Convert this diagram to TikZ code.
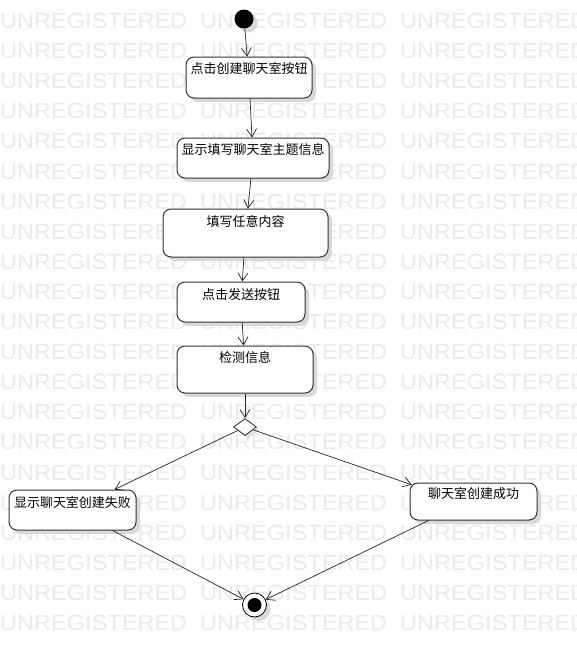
\documentclass[tikz,border=0pt]{standalone}
\usepackage{fontspec}
\newfontfamily\cjkfont{Noto Sans CJK SC}
\newfontfamily\wmfont{Liberation Sans}
\usetikzlibrary{shapes.geometric,shadows,arrows.meta}
\begin{document}
\begin{tikzpicture}[x=1pt,y=-1pt,
  act/.style={rectangle, draw=black!80, line width=1pt, rounded corners=8pt, fill=white, inner sep=0pt,
    drop shadow={shadow xshift=4pt, shadow yshift=-4pt, fill=black!15, opacity=1}},
  lbl/.style={font=\cjkfont\fontsize{13}{13}\selectfont, inner sep=0pt},
  flow/.style={draw=black!85, line width=0.7pt, -{Straight Barb[length=8pt,width=10pt]}},
  wm/.style={font=\wmfont\fontsize{22}{22}\selectfont, text=black!8, anchor=north west, inner sep=0pt, xscale=1.07},
]
\useasboundingbox (0,0) rectangle (576,659);
\fill[white] (0,0) rectangle (576,659);

% background stamp rows
\foreach \r in {0,...,20}{
  \foreach \c in {0,200,400}{
    \node[wm] (wm-\r-\c) at (\c, 13+30.1*\r) {UNREGISTERED};
  }
}

% start and end
\node (ini) [circle, fill=black, minimum size=19pt, inner sep=0pt,
  drop shadow={shadow xshift=4pt, shadow yshift=-4pt, fill=black!15, opacity=1}] at (244,19) {};
\node (fin) [circle, draw=black, line width=0.8pt, fill=white, minimum size=24pt, inner sep=0pt,
  drop shadow={shadow xshift=4pt, shadow yshift=-4pt, fill=black!15, opacity=1}] at (254.5,605) {};
\fill[black] (fin.center) circle[radius=7pt];

% actions
\node (b1) [act, minimum width=126pt, minimum height=41pt] at (249,77.5) {};
\node (b2) [act, minimum width=152pt, minimum height=40pt] at (253,158) {};
\node (b3) [act, minimum width=165pt, minimum height=48pt] at (245.5,233) {};
\node (b4) [act, minimum width=128pt, minimum height=40pt] at (241,302) {};
\node (b5) [act, minimum width=136pt, minimum height=47pt] at (245,369.5) {};
\node (b6) [act, minimum width=127pt, minimum height=40pt] at (72.5,510) {};
\node (b7) [act, minimum width=127pt, minimum height=37pt] at (473.5,501.5) {};

\node (dia) [diamond, draw=black!85, line width=0.8pt, fill=white, minimum width=23pt, minimum height=17pt, inner sep=0pt,
  drop shadow={shadow xshift=3pt, shadow yshift=-3pt, fill=black!12, opacity=1}] at (245,427) {};

% labels
\node[lbl] (t1) at ([yshift=-12.5pt]b1.north) {点击创建聊天室按钮};
\node[lbl] (t2) at ([yshift=-12.5pt]b2.north) {显示填写聊天室主题信息};
\node[lbl] (t3) at ([yshift=-13pt]b3.north) {填写任意内容};
\node[lbl] (t4) at ([yshift=-13pt]b4.north) {点击发送按钮};
\node[lbl] (t5) at ([yshift=-12pt]b5.north) {检测信息};
\node[lbl] (t6) at ([yshift=-13pt]b6.north) {显示聊天室创建失败};
\node[lbl] (t7) at ([yshift=-11.5pt]b7.north) {聊天室创建成功};

% flow
\draw[flow] (ini) -- (b1);
\draw[flow] (b1) -- (b2);
\draw[flow] (b2) -- (b3);
\draw[flow] (b3) -- (b4);
\draw[flow] (b4) -- (b5);
\draw[flow] (b5) -- (dia);
\draw[flow] (dia) -- ([xshift=42pt]b6.north);
\draw[flow] (dia) -- ([shift={(2.3,2.3)}]b7.north west);
\draw[flow] ([xshift=40pt]b6.south) -- (fin);
\draw[flow] ([xshift=-45pt]b7.south) -- (fin);
\end{tikzpicture}
\end{document}
